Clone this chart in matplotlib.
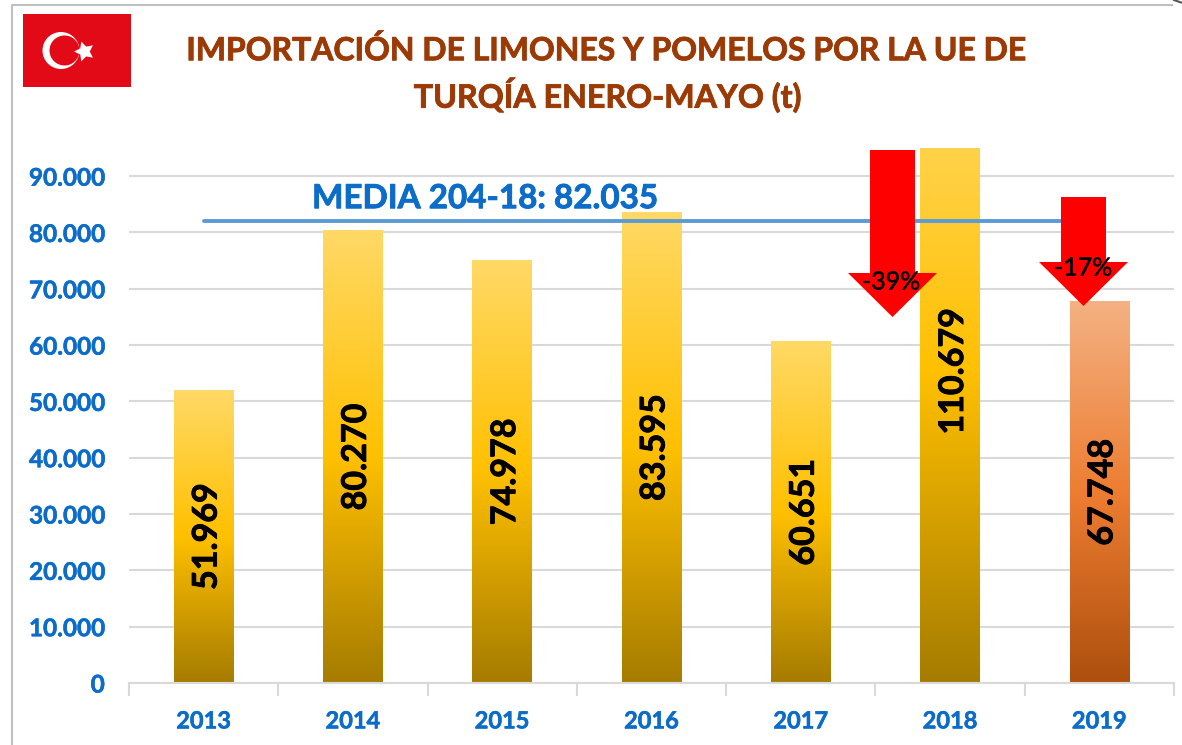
"""Importacion de limones y pomelos por la UE de Turquia, enero-mayo."""
import matplotlib
matplotlib.use("Agg")
import matplotlib.pyplot as plt
import matplotlib.patheffects as pe
import numpy as np
from matplotlib.colors import LinearSegmentedColormap
from matplotlib.patches import Circle, Polygon, Rectangle

W, H = 1182, 745

years = ["2013", "2014", "2015", "2016", "2017", "2018", "2019"]
values = [51969, 80270, 74978, 83595, 60651, 110679, 67748]
value_labels = ["51.969", "80.270", "74.978", "83.595", "60.651", "110.679", "67.748"]
y_ticks = [0, 10000, 20000, 30000, 40000, 50000, 60000, 70000, 80000, 90000]
y_tick_labels = ["0", "10.000", "20.000", "30.000", "40.000", "50.000",
                 "60.000", "70.000", "80.000", "90.000"]
media = 82035

BLUE = "#0b6cc9"
gold = LinearSegmentedColormap.from_list("gold", ["#a67c00", "#ffc000", "#ffd966"])
orange = LinearSegmentedColormap.from_list("orange", ["#ae4f0e", "#ed7d31", "#f4b183"])
grad = np.linspace(1, 0, 256).reshape(-1, 1)

plt.rcParams["font.family"] = ["Lato", "DejaVu Sans"]
fig = plt.figure(figsize=(W / 100, H / 100), dpi=100, facecolor="white")


def px_axes(left, top, right, bottom):
    return [left / W, 1 - bottom / H, (right - left) / W, (bottom - top) / H]


def heavy(color, w=0.6):
    # Lato bold is lighter than the original face, thicken it a bit
    return [pe.withStroke(linewidth=w, foreground=color)]


ax = fig.add_axes(px_axes(129, 148, 1174, 683))
ax.set_yticks(y_ticks, y_tick_labels)
ax.set_xticks(range(len(years)), years)
ax.set_xticks(np.arange(-0.5, 7), minor=True)
ax.tick_params(axis="x", which="major", length=0, pad=19, labelsize=17, labelcolor=BLUE)
ax.tick_params(axis="x", which="minor", length=9, width=1.5, color="#d9d9d9")
ax.tick_params(axis="y", length=0, pad=17.5, labelsize=17.5, labelcolor=BLUE)
for lab in ax.get_xticklabels() + ax.get_yticklabels():
    lab.set_fontweight("bold")
    lab.set_path_effects(heavy(BLUE, 0.4))
ax.grid(axis="y", color="#d9d9d9", lw=1.5)
ax.set_axisbelow(True)
for s in ["top", "right", "left"]:
    ax.spines[s].set_visible(False)
ax.spines["bottom"].set_color("#d9d9d9")
ax.spines["bottom"].set_linewidth(1.5)

bar_w = 0.4
for i, v in enumerate(values):
    cmap = orange if years[i] == "2019" else gold
    im = ax.imshow(grad, cmap=cmap, vmin=0, vmax=1, aspect="auto", zorder=2,
                   extent=(i - bar_w / 2, i + bar_w / 2, 0, v), interpolation="bilinear")
    im.set_clip_path(ax.patch)
ax.set_xlim(-0.5, 6.5)
ax.set_ylim(0, 95000)

ax.plot([0, 6], [media, media], color="#5b9bd5", lw=2.8, zorder=3, solid_capstyle="round")
ax.text(1.88, 86000, "MEDIA 204-18: 82.035", color=BLUE, fontsize=23.9, fontweight="bold",
        ha="center", va="center", zorder=4, path_effects=heavy(BLUE))

for i, (lab, v) in enumerate(zip(value_labels, values)):
    ax.text(i + 0.02, v / 2, lab, rotation=90, ha="center", va="center", fontsize=24.5,
            fontweight="bold", color="black", zorder=6, path_effects=heavy("black"))

# overlay in pixel coordinates: frame, flag, arrows, title
ov = fig.add_axes([0, 0, 1, 1], zorder=5)
ov.set_xlim(0, W)
ov.set_ylim(H, 0)
ov.axis("off")
ov.patch.set_alpha(0)

ov.plot([11.5, 11.5, 1172], [745, 4.5, 4.5], color="#bfbfbf", lw=1.5)
ov.plot([1174, 1181], [0, 2.5], color="#555555", lw=1.5)

ov.add_patch(Rectangle((23, 14), 108, 73, fc="#e30a17", ec="none"))
ov.add_patch(Circle((61, 50.5), 18.5, fc="white", ec="none"))
ov.add_patch(Circle((64.5, 50.5), 15, fc="#e30a17", ec="none"))
ov.plot([84], [50.5], marker=(5, 1, 90), ms=15, color="white", mew=0)

for x0, x1, top, neck, tip, hl, hr in [(870, 915, 150, 273, 317, 848, 937),
                                       (1061, 1106, 197, 262, 306, 1039, 1128)]:
    ov.add_patch(Polygon([(x0, top), (x1, top), (x1, neck), (hr, neck),
                          ((hl + hr) / 2, tip), (hl, neck), (x0, neck)],
                         fc="#ff0000", ec="none"))
ov.text(891, 282, "-39%", fontsize=18, ha="center", va="center", color="black",
        path_effects=heavy("black", 0.3))
ov.text(1083, 268, "-17%", fontsize=18, ha="center", va="center", color="black",
        path_effects=heavy("black", 0.3))

title_color = "#9c3a06"
ov.text(607.5, 50, "IMPORTACIÓN DE LIMONES Y POMELOS POR LA UE DE", fontsize=23,
        fontweight="bold", color=title_color, ha="center", va="center",
        path_effects=heavy(title_color))
ov.text(608, 95, "TURQÍA ENERO-MAYO (t)", fontsize=23.2,
        fontweight="bold", color=title_color, ha="center", va="center",
        path_effects=heavy(title_color))

fig.savefig("out.png", dpi=100)
